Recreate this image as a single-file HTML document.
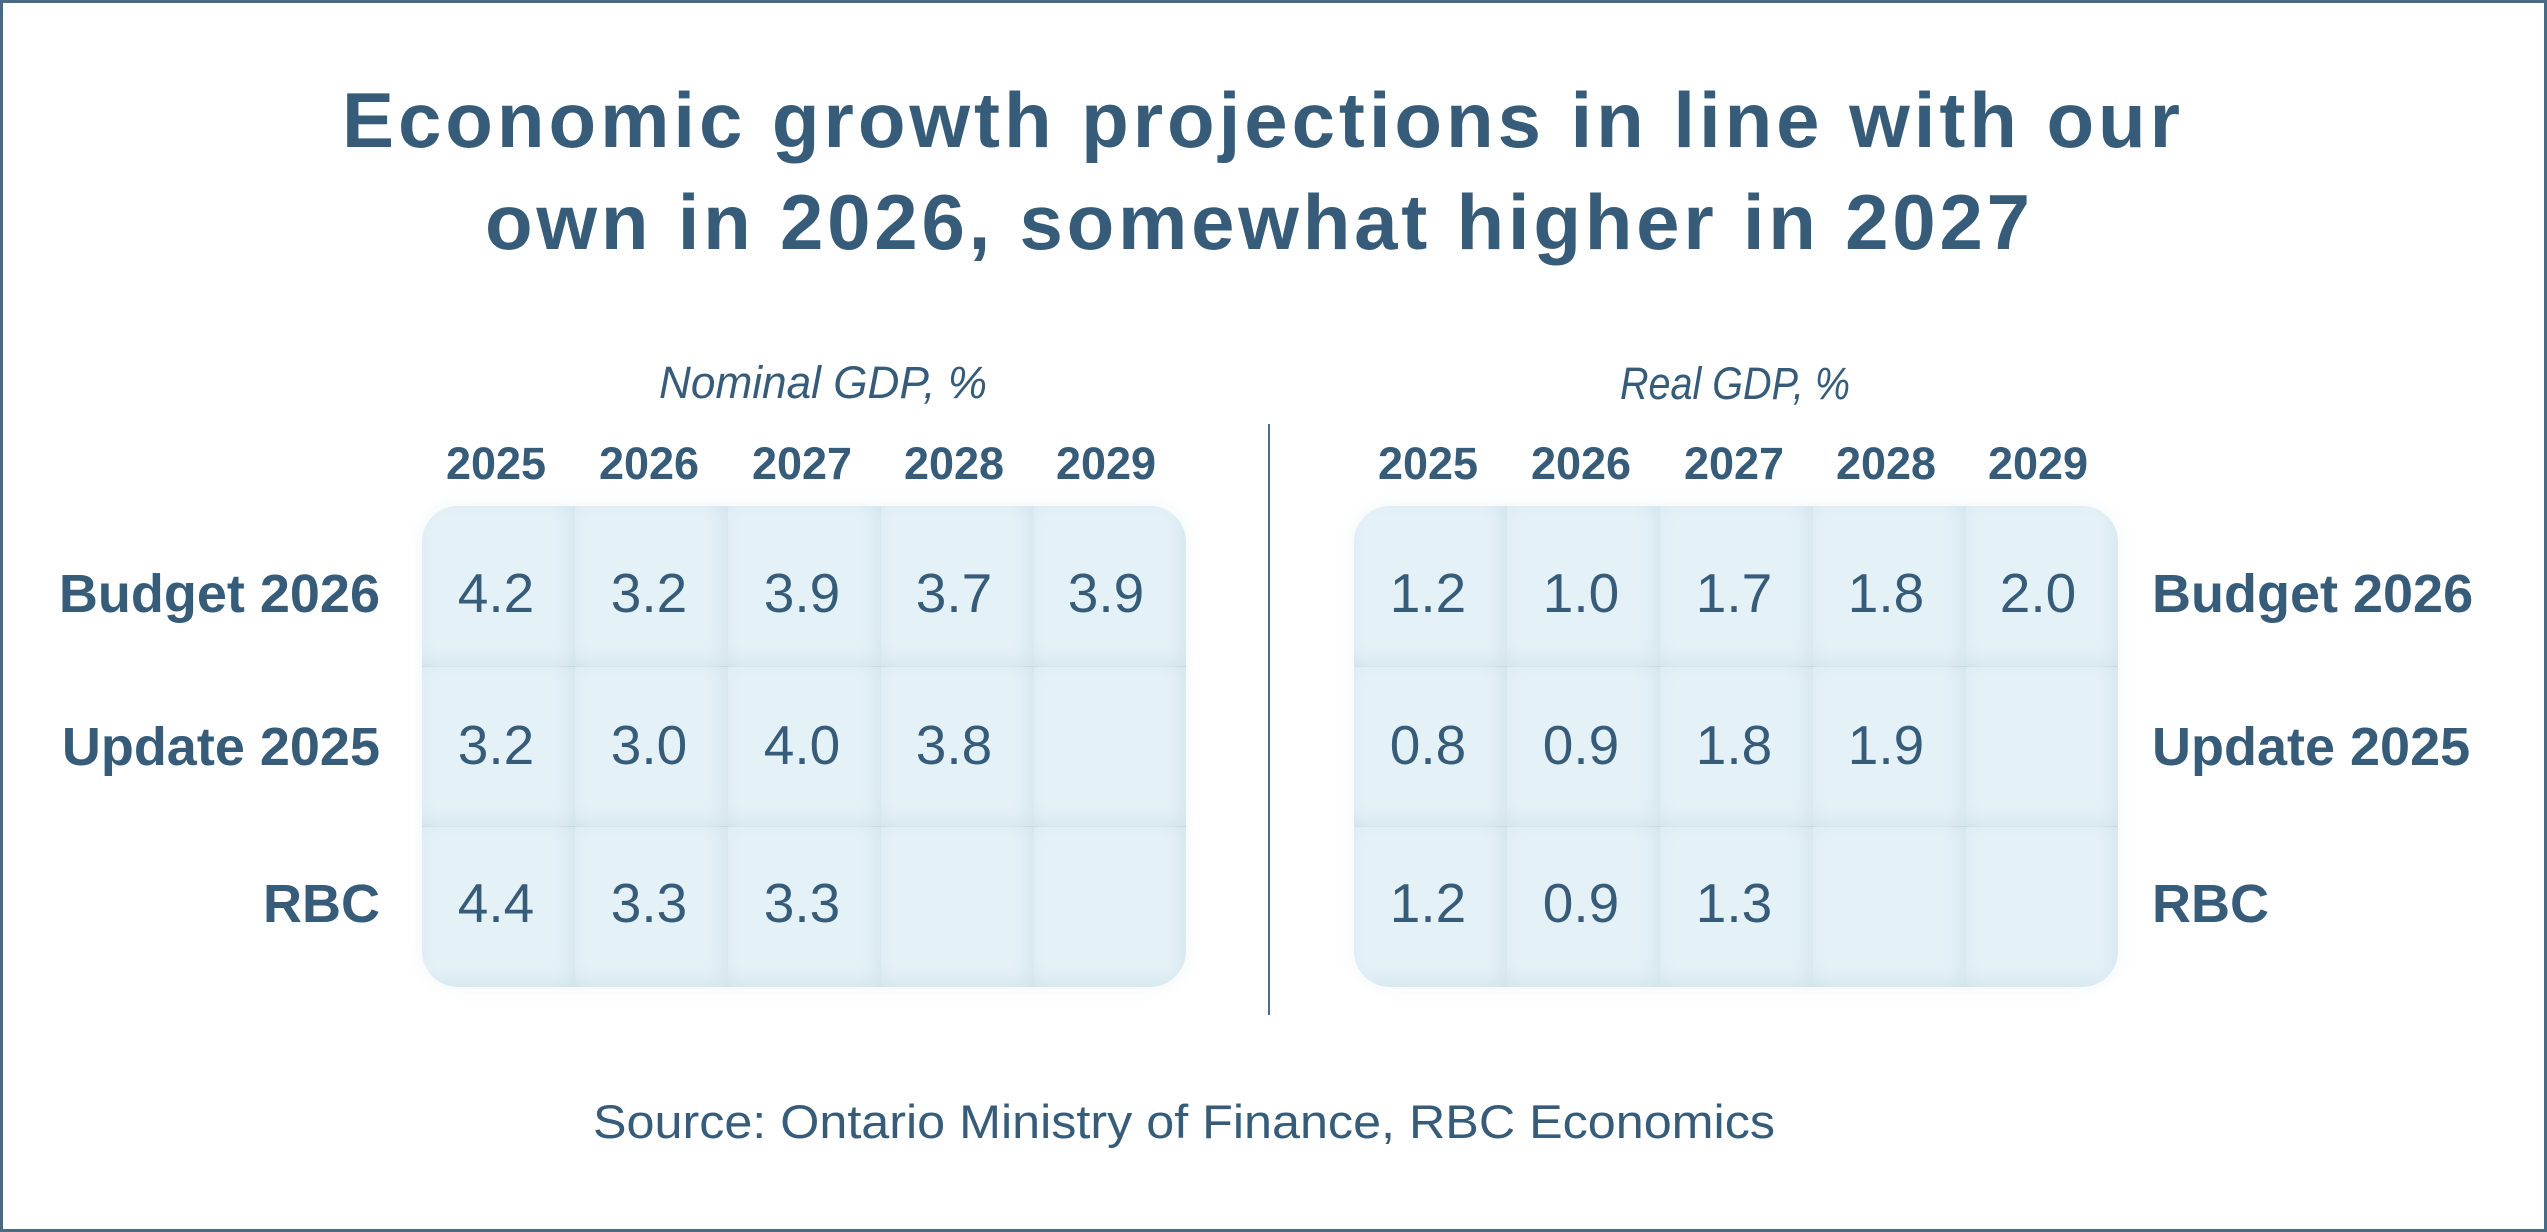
<!DOCTYPE html>
<html>
<head>
<meta charset="utf-8">
<style>
  html,body{margin:0;padding:0;background:#fff;}
  #root{position:relative;width:2547px;height:1232px;overflow:hidden;background:#fff;box-sizing:border-box;border:3px solid #4a6a84;}
  .box{position:absolute;top:503px;width:764px;height:481px;border-radius:36px;overflow:hidden;background:#e4f2f8;box-shadow:0 0 16px rgba(150,180,200,0.14);}
  .cell{position:absolute;width:153px;height:161px;box-sizing:border-box;
    box-shadow: inset -14px -14px 22px -12px rgba(105,135,158,0.16), inset 8px 8px 20px -12px rgba(105,135,158,0.10);}
  svg{position:absolute;left:0;top:0;}
  text{fill:#365c79;}
</style>
</head>
<body>
<div id="root">
  <div class="box" style="left:419px;">
    <div class="cell" style="left:0;top:0"></div><div class="cell" style="left:153px;top:0"></div><div class="cell" style="left:306px;top:0"></div><div class="cell" style="left:459px;top:0"></div><div class="cell" style="left:612px;top:0"></div>
    <div class="cell" style="left:0;top:160px"></div><div class="cell" style="left:153px;top:160px"></div><div class="cell" style="left:306px;top:160px"></div><div class="cell" style="left:459px;top:160px"></div><div class="cell" style="left:612px;top:160px"></div>
    <div class="cell" style="left:0;top:320px"></div><div class="cell" style="left:153px;top:320px"></div><div class="cell" style="left:306px;top:320px"></div><div class="cell" style="left:459px;top:320px"></div><div class="cell" style="left:612px;top:320px"></div>
  </div>
  <div class="box" style="left:1351px;">
    <div class="cell" style="left:0;top:0"></div><div class="cell" style="left:153px;top:0"></div><div class="cell" style="left:306px;top:0"></div><div class="cell" style="left:459px;top:0"></div><div class="cell" style="left:612px;top:0"></div>
    <div class="cell" style="left:0;top:160px"></div><div class="cell" style="left:153px;top:160px"></div><div class="cell" style="left:306px;top:160px"></div><div class="cell" style="left:459px;top:160px"></div><div class="cell" style="left:612px;top:160px"></div>
    <div class="cell" style="left:0;top:320px"></div><div class="cell" style="left:153px;top:320px"></div><div class="cell" style="left:306px;top:320px"></div><div class="cell" style="left:459px;top:320px"></div><div class="cell" style="left:612px;top:320px"></div>
  </div>

  <svg width="2547" height="1232" viewBox="3 3 2547 1232" xmlns="http://www.w3.org/2000/svg" style="left:-3px;top:-3px;">
    <!-- title -->
    <text x="345" y="150" font-family="Liberation Sans, sans-serif" font-weight="bold" font-size="78" textLength="1838" lengthAdjust="spacing">Economic growth projections in line with our</text>
    <text x="488" y="252" font-family="Liberation Sans, sans-serif" font-weight="bold" font-size="78" textLength="1545" lengthAdjust="spacing">own in 2026, somewhat higher in 2027</text>

    <!-- subtitles -->
    <text x="662" y="401" font-family="Liberation Sans, sans-serif" font-style="italic" font-size="45" textLength="328" lengthAdjust="spacingAndGlyphs">Nominal GDP, %</text>
    <text x="1623" y="402" font-family="Liberation Sans, sans-serif" font-style="italic" font-size="45" textLength="230" lengthAdjust="spacingAndGlyphs">Real GDP, %</text>

    <!-- divider -->
    <line x1="1272" y1="427" x2="1272" y2="1018" stroke="#4f6f86" stroke-width="2"/>

    <!-- year headers -->
    <g font-family="Liberation Sans, sans-serif" font-weight="bold" font-size="45" text-anchor="middle">
      <text x="499" y="482">2025</text>
      <text x="652" y="482">2026</text>
      <text x="805" y="482">2027</text>
      <text x="957" y="482">2028</text>
      <text x="1109" y="482">2029</text>
      <text x="1431" y="482">2025</text>
      <text x="1584" y="482">2026</text>
      <text x="1737" y="482">2027</text>
      <text x="1889" y="482">2028</text>
      <text x="2041" y="482">2029</text>
    </g>

    <!-- row labels -->
    <g font-family="Liberation Sans, sans-serif" font-weight="bold" font-size="54">
      <text x="383" y="615" text-anchor="end">Budget 2026</text>
      <text x="383" y="768" text-anchor="end">Update 2025</text>
      <text x="383" y="925" text-anchor="end">RBC</text>
      <text x="2155" y="615">Budget 2026</text>
      <text x="2155" y="768">Update 2025</text>
      <text x="2155" y="925">RBC</text>
    </g>

    <!-- numbers -->
    <g font-family="Liberation Sans, sans-serif" font-size="55" text-anchor="middle">
      <text x="499" y="615">4.2</text>
      <text x="652" y="615">3.2</text>
      <text x="805" y="615">3.9</text>
      <text x="957" y="615">3.7</text>
      <text x="1109" y="615">3.9</text>
      <text x="499" y="767">3.2</text>
      <text x="652" y="767">3.0</text>
      <text x="805" y="767">4.0</text>
      <text x="957" y="767">3.8</text>
      <text x="499" y="925">4.4</text>
      <text x="652" y="925">3.3</text>
      <text x="805" y="925">3.3</text>

      <text x="1431" y="615">1.2</text>
      <text x="1584" y="615">1.0</text>
      <text x="1737" y="615">1.7</text>
      <text x="1889" y="615">1.8</text>
      <text x="2041" y="615">2.0</text>
      <text x="1431" y="767">0.8</text>
      <text x="1584" y="767">0.9</text>
      <text x="1737" y="767">1.8</text>
      <text x="1889" y="767">1.9</text>
      <text x="1431" y="925">1.2</text>
      <text x="1584" y="925">0.9</text>
      <text x="1737" y="925">1.3</text>
    </g>

    <!-- source -->
    <text x="596" y="1141" font-family="Liberation Sans, sans-serif" font-size="47" textLength="1182" lengthAdjust="spacingAndGlyphs">Source: Ontario Ministry of Finance, RBC Economics</text>
  </svg>
</div>
</body>
</html>
